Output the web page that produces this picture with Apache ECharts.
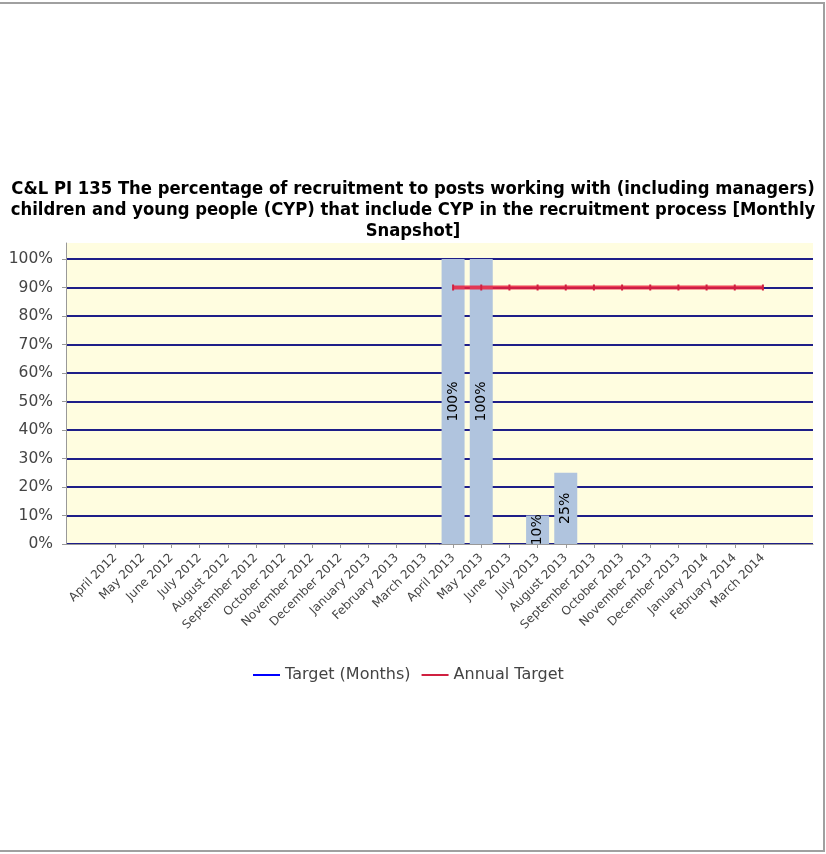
<!DOCTYPE html>
<html>
<head>
<meta charset="utf-8">
<script src="https://cdn.jsdelivr.net/npm/echarts@6/dist/echarts.min.js"></script>
<style>
html,body{margin:0;padding:0;background:#fff;}
#chart{width:826px;height:854px;}
</style>
</head>
<body>
<div id="chart"></div>
<script>
const categories = ['April 2012','May 2012','June 2012','July 2012','August 2012','September 2012','October 2012','November 2012','December 2012','January 2013','February 2013','March 2013','April 2013','May 2013','June 2013','July 2013','August 2013','September 2013','October 2013','November 2013','December 2013','January 2014','February 2014','March 2014'];
const actualValues = [null,null,null,null,null,null,null,null,null,null,null,null,100,100,null,10,25,null,null,null,null,null,null,null];
const targetMonths = [null,null,null,null,null,null,null,null,null,null,null,null,null,null,null,null,null,null,null,null,null,null,null,null];
const annualTarget = [null,null,null,null,null,null,null,null,null,null,null,null,90,90,90,90,90,90,90,90,90,90,90,90];
const yTicks = [0,10,20,30,40,50,60,70,80,90,100];
const titleText = 'C&L PI 135 The percentage of recruitment to posts working with (including managers)\nchildren and young people (CYP) that include CYP in the recruitment process [Monthly\nSnapshot]';

const chart = echarts.init(document.getElementById('chart'));
const FONT = 'DejaVu Sans';
chart.setOption({
  animation: false,
  backgroundColor: '#ffffff',
  title: {
    text: titleText,
    left: 'center',
    top: 174,
    textStyle: {fontFamily: 'DejaVu Sans Condensed', fontSize: 18.3, fontWeight: 'bold', color: '#000', lineHeight: 21}
  },
  legend: {
    top: 662,
    left: 248,
    itemWidth: 27,
    itemHeight: 2,
    itemGap: 11,
    icon: 'rect',
    data: ['Target (Months)', 'Annual Target'],
    textStyle: {fontFamily: FONT, fontSize: 16, color: '#444'}
  },
  graphic: [
    {type: 'line', shape: {x1: 0, y1: 3, x2: 825, y2: 3}, style: {stroke: '#a0a0a0', lineWidth: 2}},
    {type: 'line', shape: {x1: 824, y1: 3, x2: 824, y2: 852}, style: {stroke: '#a0a0a0', lineWidth: 2}},
    {type: 'line', shape: {x1: 0, y1: 851, x2: 825, y2: 851}, style: {stroke: '#a0a0a0', lineWidth: 2}}
  ],
  grid: [
    {left: 66, right: 13, top: 243, bottom: 310, show: true, backgroundColor: '#fffde0', borderWidth: 0},
    {left: 66, right: 13, top: 259, bottom: 310},
    {left: 101, right: 49, top: 259, bottom: 310}
  ],
  xAxis: [
    {gridIndex: 0, type: 'category', data: categories, axisLine: {show: true, lineStyle: {color: '#999', width: 1}}, axisTick: {show: false}, axisLabel: {show: false}},
    {gridIndex: 1, type: 'category', data: categories, show: false},
    {gridIndex: 2, type: 'category', data: categories, boundaryGap: true,
     axisLine: {show: false},
     axisTick: {show: true, alignWithLabel: true, length: 4, lineStyle: {color: '#999'}},
     axisLabel: {rotate: 45, interval: 0, fontFamily: FONT, fontSize: 12, color: '#444', margin: 12}}
  ],
  yAxis: [
    {gridIndex: 0, type: 'value', min: 0, max: 1, axisLine: {show: true, lineStyle: {color: '#999', width: 1}}, axisTick: {show: false}, axisLabel: {show: false}, splitLine: {show: false}},
    {gridIndex: 1, type: 'value', min: 0, max: 100, interval: 10,
     axisLine: {show: false},
     axisTick: {show: true, length: 4, lineStyle: {color: '#999'}},
     axisLabel: {formatter: '{value}%', fontFamily: FONT, fontSize: 15.5, color: '#444', margin: 13},
     splitLine: {show: true, lineStyle: {color: '#1e1e88', width: 2}}},
    {gridIndex: 2, type: 'value', min: 0, max: 100, show: false, splitLine: {show: false}}
  ],
  series: [
    {name: 'Actual', type: 'bar', xAxisIndex: 2, yAxisIndex: 2, data: actualValues, barWidth: 23,
     itemStyle: {color: '#b0c4de'},
     label: {show: true, position: 'inside', rotate: 90, formatter: '{c}%', fontFamily: FONT, fontSize: 14, color: '#000'}},
    {name: 'Target (Months)', type: 'line', xAxisIndex: 2, yAxisIndex: 2, data: targetMonths, color: '#0000ff', lineStyle: {color: '#0000ff', width: 2}, showSymbol: false},
    {name: 'Annual Target', type: 'line', xAxisIndex: 2, yAxisIndex: 2, data: annualTarget, color: '#ff0000',
     lineStyle: {color: 'rgba(235,30,60,0.85)', width: 4},
     symbol: 'rect', symbolSize: [2, 6], showSymbol: true,
     itemStyle: {color: '#d02040'}, z: 5}
  ]
});
</script>
</body>
</html>
